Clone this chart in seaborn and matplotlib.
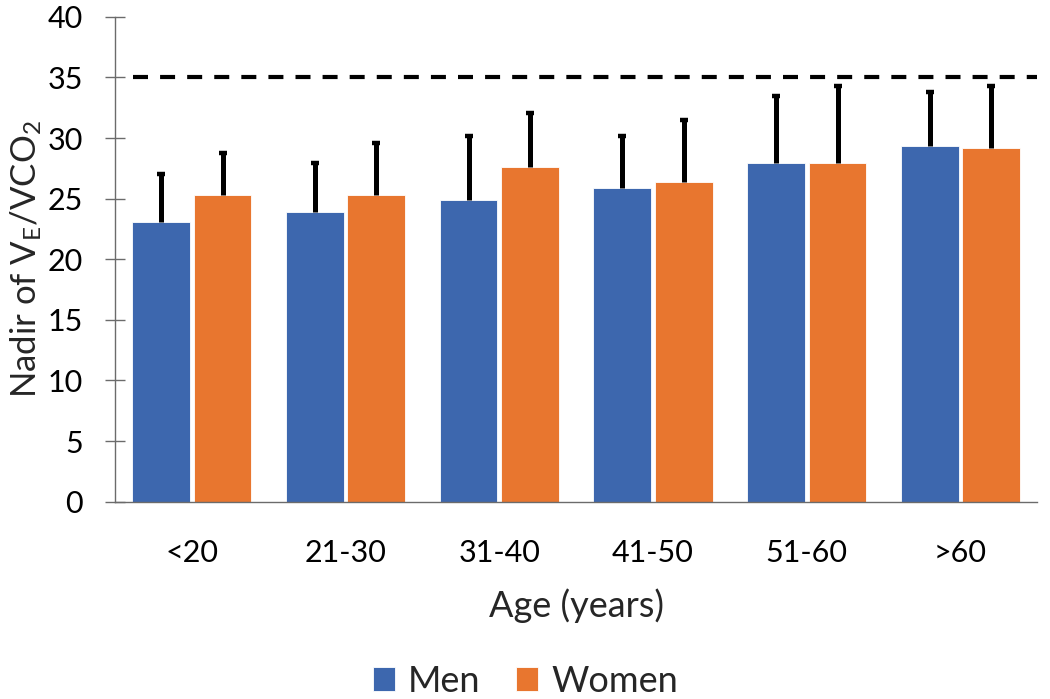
import numpy as np
import pandas as pd
import seaborn as sns
import matplotlib.pyplot as plt

ages = ['<20', '21-30', '31-40', '41-50', '51-60', '>60']
men_mean = [23.1, 23.9, 24.9, 25.9, 27.9, 29.3]
women_mean = [25.3, 25.3, 27.6, 26.4, 27.9, 29.2]
men_sd = [3.9, 4.0, 5.3, 4.3, 5.6, 4.5]
women_sd = [3.5, 4.3, 4.5, 5.1, 6.4, 5.1]
threshold = 35

sns.set_style("white")
plt.rcParams['font.family'] = ['Lato', 'DejaVu Sans']
plt.rcParams['mathtext.default'] = 'regular'

df = pd.DataFrame({
    'age': ages * 2,
    'value': men_mean + women_mean,
    'sex': ['Men'] * len(ages) + ['Women'] * len(ages),
})

fig = plt.figure(figsize=(10.5, 6.99), dpi=100)
ax = fig.add_axes([0.1095, 0.2823, 0.8785, 0.6937])

sns.barplot(data=df, x='age', y='value', hue='sex', errorbar=None,
            palette=['#3D67AE', '#E8762F'], saturation=1, width=0.8, gap=0.06,
            edgecolor='white', linewidth=0.6, ax=ax)

# error bars, upward only (line + cap marker)
bars = [p for p in ax.patches if p.get_height() > 0]
sds = men_sd + women_sd
xs = np.array([p.get_x() + p.get_width() / 2 for p in bars])
ys = np.array([p.get_height() for p in bars])
tops = ys + np.array(sds)
ax.vlines(xs, ys, tops, color='black', lw=3.6, zorder=3)
ax.plot(xs, tops, ls='none', marker='_', ms=6, mew=3.2, color='black', zorder=3)

# reference line
ax.axhline(threshold, xmin=0.02, xmax=1.0, color='black', lw=3.0, dashes=(3.6, 2.9), zorder=3)

ax.set_xlim(-0.5, 5.5)
ax.set_ylim(0, 40)
ax.set_yticks(range(0, 41, 5))

sns.despine(ax=ax)
for s in ['left', 'bottom']:
    ax.spines[s].set_color('#6b6b6b')
    ax.spines[s].set_linewidth(1.0)

ax.tick_params(axis='y', left=True, direction='inout', length=14.4, width=1.0, color='#6b6b6b',
               pad=16, labelsize=22, labelcolor='black')
ax.tick_params(axis='x', bottom=False, length=0, pad=27, labelsize=22, labelcolor='black')

ax.set_ylabel('Nadir of V$_E$/VCO$_2$', fontsize=25)
ax.set_xlabel('Age (years)', fontsize=26)
ax.yaxis.set_label_coords(-0.077, 0.5)
ax.xaxis.set_label_coords(0.5, -0.178)

sns.move_legend(ax, 'center', bbox_to_anchor=(0.445, -0.37), ncol=2, frameon=False,
                title=None, fontsize=26, handlelength=0.6, handleheight=0.65,
                handletextpad=0.36, columnspacing=1.0)

plt.savefig('out.png', dpi=100)
